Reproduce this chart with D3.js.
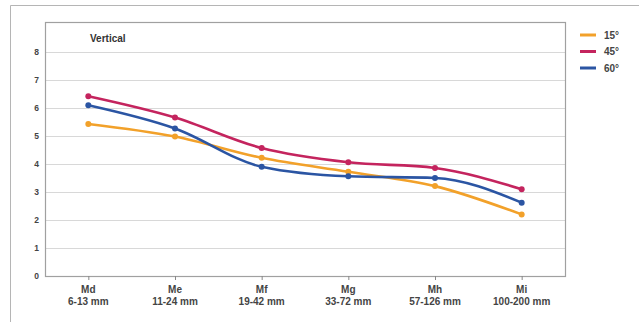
<!DOCTYPE html>
<html><head><meta charset="utf-8">
<script src="https://cdn.jsdelivr.net/npm/d3@7"></script>
<style>html,body{margin:0;padding:0;background:#fff;}svg{display:block;font-family:"Liberation Sans",Arial,sans-serif;}</style>
</head><body>
<svg id="c" width="639" height="322"></svg>
<script>
const categories = ["Md", "Me", "Mf", "Mg", "Mh", "Mi"];
const ranges = ["6-13 mm", "11-24 mm", "19-42 mm", "33-72 mm", "57-126 mm", "100-200 mm"];
const seriesNames = ["15°", "45°", "60°"];
const v15 = [5.43, 4.98, 4.22, 3.72, 3.21, 2.2];
const v45 = [6.42, 5.66, 4.57, 4.06, 3.86, 3.1];
const v60 = [6.1, 5.27, 3.9, 3.56, 3.5, 2.62];
const colors = ["#f2a12a", "#c4245e", "#2b55a3"];
const yTicks = [0, 1, 2, 3, 4, 5, 6, 7, 8];

const svg = d3.select("#c");
const m = {l: 45, t: 22, r: 565, b: 276};
const x = d3.scalePoint().domain(categories).range([m.l, m.r]).padding(0.5);
const y = d3.scaleLinear().domain([0, 9]).range([m.b, m.b - 9 * 28]);

// outer frame
svg.append("path").attr("d", `M10.5,322 V5.5 H639`).attr("fill", "none").attr("stroke", "#b5b5b5").attr("stroke-width", 1);

// gridlines
svg.append("g").selectAll("line").data(yTicks.slice(1)).join("line")
  .attr("x1", m.l).attr("x2", m.r)
  .attr("y1", d => y(d) + 0.5).attr("y2", d => y(d) + 0.5)
  .attr("stroke", "#d8d8d8").attr("stroke-width", 1);

// plot frame
svg.append("rect").attr("x", m.l + 0.5).attr("y", m.t + 0.5).attr("width", m.r - m.l).attr("height", m.b - m.t)
  .attr("fill", "none").attr("stroke", "#a0a0a0").attr("stroke-width", 1.2);

// y axis labels
const yAxis = d3.axisLeft(y).tickValues(yTicks).tickSize(0).tickPadding(6).tickFormat(d3.format("d"));
const gy = svg.append("g").attr("transform", `translate(${m.l},0)`).call(yAxis);
gy.select(".domain").remove();
gy.selectAll("text").attr("font-size", 8.5).attr("font-weight", "bold").attr("fill", "#444")
  .attr("font-family", "'Liberation Sans',Arial,sans-serif");

// x axis
const xAxis = d3.axisBottom(x).tickSize(4).tickFormat("");
const gx = svg.append("g").attr("transform", `translate(0,${m.b})`).call(xAxis);
gx.select(".domain").remove();
gx.selectAll("line").attr("stroke", "#888");
const lab = svg.append("g").selectAll("text").data(categories).join("text")
  .attr("x", d => x(d)).attr("text-anchor", "middle")
  .attr("font-size", 10).attr("font-weight", "bold").attr("fill", "#444");
lab.append("tspan").attr("x", d => x(d)).attr("y", 293).text(d => d);
lab.append("tspan").attr("x", d => x(d)).attr("y", 305).text((d, i) => ranges[i]);

// title
svg.append("text").attr("x", 90).attr("y", 42).attr("font-size", 10).attr("font-weight", "bold").attr("fill", "#333").text("Vertical");

// lines
const allSeries = [v15, v45, v60];
const line = d3.line().x((d, i) => x(categories[i])).y(d => y(d)).curve(d3.curveMonotoneX);
allSeries.forEach((s, k) => {
  svg.append("path").datum(s).attr("d", line).attr("fill", "none")
    .attr("stroke", colors[k]).attr("stroke-width", 2.6).attr("stroke-linejoin", "round");
  svg.append("g").selectAll("circle").data(s).join("circle")
    .attr("cx", (d, i) => x(categories[i])).attr("cy", d => y(d)).attr("r", 3)
    .attr("fill", colors[k]);
});

// legend
const lg = svg.append("g").selectAll("g").data(seriesNames).join("g")
  .attr("transform", (d, i) => `translate(580,${35 + i * 16.5})`);
lg.append("line").attr("x1", 0).attr("x2", 16).attr("stroke", (d, i) => colors[i]).attr("stroke-width", 3);
lg.append("text").attr("x", 24).attr("y", 3.5).attr("font-size", 10).attr("font-weight", "bold").attr("fill", "#444").text(d => d);
</script>
</body></html>
